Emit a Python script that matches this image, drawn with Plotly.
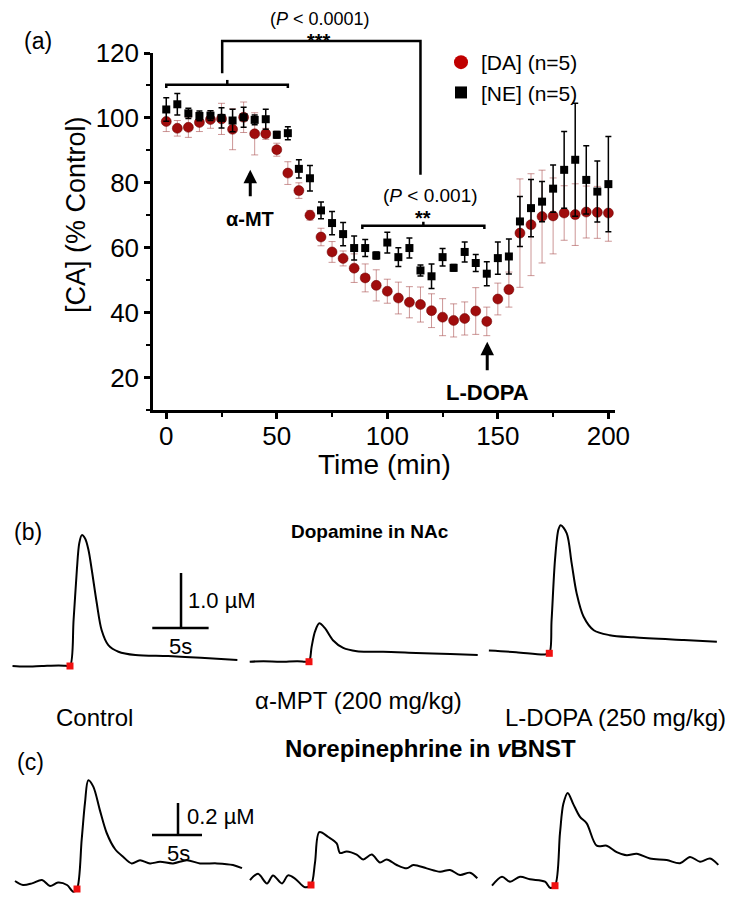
import plotly.graph_objects as go

# Page is 739x904; the browser body has an 8px margin, so the figure itself is 723x888 at (8, 8).
PAGE_W, PAGE_H = 739, 904
OX, OY = 8, 8
FW, FH = PAGE_W - 2 * OX, PAGE_H - 2 * OY
FONT = "Liberation Sans, Arial, sans-serif"

# ---------------- Panel (a) data ----------------
time_min = list(range(0, 205, 5))
da_mean = [98.9, 96.8, 97.1, 98.6, 99.5, 99.7, 96.5, 100.2, 95.1, 95.1, 90.2, 83.0, 77.6, 70.0,
           63.3, 58.7, 56.7, 53.7, 50.7, 48.4, 46.6, 44.5, 43.2, 42.5, 40.6, 38.6, 37.6, 38.2,
           40.5, 37.3, 44.2, 47.1, 64.5, 67.1, 69.6, 69.8, 70.7, 70.2, 71.0, 70.9, 70.7]
da_err = [3.1, 2.4, 3.1, 2.8, 2.7, 4.8, 6.3, 4.7, 6.5, 1.7, 2.0, 3.5, 2.4, 1.5,
          2.7, 3.2, 2.3, 4.4, 4.3, 4.8, 3.7, 4.9, 4.8, 5.4, 5.2, 5.7, 5.1, 5.1,
          7.2, 4.4, 4.9, 5.4, 16.7, 15.7, 14.3, 11.7, 8.4, 9.5, 8.0, 8.0, 8.7]
ne_mean = [102.6, 104.2, 101.4, 100.6, 100.7, 100.0, 99.2, 100.2, 99.4, 99.6, 94.8, 95.3, 84.3, 81.4,
           71.5, 67.6, 64.2, 59.9, 59.9, 57.6, 61.6, 57.1, 59.9, 53.0, 51.2, 57.1, 53.8, 58.7,
           55.3, 52.0, 56.8, 57.3, 68.1, 72.2, 74.2, 78.2, 84.0, 87.1, 80.9, 77.3, 79.6]
ne_err = [3.6, 3.3, 1.6, 1.5, 1.5, 3.1, 3.5, 3.1, 1.5, 3.1, 1.0, 2.0, 2.8, 3.9,
          2.6, 3.6, 3.6, 3.7, 2.6, 1.1, 3.2, 2.9, 3.1, 1.7, 3.8, 2.7, 1.0, 3.1,
          2.6, 3.7, 5.0, 5.4, 7.7, 8.8, 6.2, 7.3, 11.8, 17.4, 10.5, 9.4, 14.7]
x_ticks = [0, 50, 100, 150, 200]
y_ticks = [20, 40, 60, 80, 100, 120]

# ---------------- Panel (b) traces: time (s) from stimulation, [DA] (uM) ----------------
b_ctrl_t = [-5.1, -4.0, -2.5, -1.0, -0.4, 0.0, 0.32, 0.61, 0.82, 1.05, 1.34, 1.64, 1.93, 2.37, 2.81, 3.4, 4.3, 5.8, 8.7, 11.6, 14.85]
b_ctrl_c = [0.0, -0.01, 0.0, 0.01, 0.005, 0.0, 0.84, 1.75, 2.23, 2.38, 2.32, 2.11, 1.75, 1.15, 0.65, 0.38, 0.26, 0.2, 0.18, 0.15, 0.11]
b_mpt_t = [-5.2, -4.0, -2.5, -1.0, -0.35, 0.0, 0.23, 0.53, 0.9, 1.4, 2.1, 3.0, 4.2, 5.35, 6.5, 9.4, 12.4, 14.8]
b_mpt_c = [0.0, 0.01, 0.0, 0.01, 0.0, 0.0, 0.27, 0.55, 0.70, 0.61, 0.39, 0.25, 0.19, 0.18, 0.18, 0.16, 0.14, 0.12]
b_ld_t = [-5.3, -2.9, -0.4, 0.0, 0.2, 0.5, 0.8, 1.0, 1.53, 1.96, 2.4, 3.0, 3.9, 5.3, 7.4, 11.8, 14.7]
b_ld_c = [0.05, 0.02, -0.02, 0.0, 0.6, 1.7, 2.25, 2.33, 2.18, 1.64, 1.09, 0.67, 0.42, 0.33, 0.29, 0.24, 0.21]

# ---------------- Panel (c) traces: time (s), [NE] (uM) ----------------
c_ctrl_t = [-6.2, -5.4, -4.5, -3.5, -2.7, -1.9, -1.0, -0.37, 0.0, 0.47, 0.8, 1.13, 1.63, 2.3, 2.97, 3.8, 4.63,
            5.47, 6.3, 7.3, 8.3, 9.6, 11.0, 12.3, 14.0, 15.6, 16.5]
c_ctrl_c = [0.05, 0.025, 0.035, 0.056, 0.019, 0.04, 0.025, -0.017, 0.0, 0.31, 0.54, 0.68, 0.64, 0.49, 0.35, 0.25, 0.2,
            0.16, 0.18, 0.16, 0.17, 0.16, 0.18, 0.16, 0.16, 0.15, 0.13]
c_mpt_t = [-6.1, -5.3, -4.4, -3.8, -2.9, -2.3, -1.6, -0.6, 0.0, 0.4, 0.83, 1.73, 2.57, 2.9, 3.57, 4.57, 5.23,
           6.07, 6.9, 7.57, 8.57, 9.57, 10.23, 11.57, 12.9, 13.9, 14.9, 15.9, 16.63]
c_mpt_c = [0.03, 0.07, 0.01, 0.06, 0.01, 0.06, 0.04, -0.014, 0.0, 0.14, 0.33, 0.30, 0.26, 0.20, 0.21, 0.19, 0.16,
           0.19, 0.14, 0.16, 0.125, 0.104, 0.125, 0.104, 0.083, 0.094, 0.0625, 0.077, 0.042]
c_ld_t = [-6.3, -5.3, -4.5, -3.5, -2.5, -1.0, -0.5, 0.0, 0.5, 0.83, 1.27, 1.83, 2.5, 3.17, 4.17, 5.17, 6.17,
          7.17, 8.17, 9.5, 11.17, 12.5, 13.5, 14.5, 15.5, 16.33]
c_ld_c = [0.0, 0.056, 0.025, 0.056, 0.04, 0.025, -0.013, 0.0, 0.33, 0.51, 0.58, 0.51, 0.43, 0.39, 0.25, 0.25, 0.21,
          0.19, 0.2, 0.17, 0.16, 0.14, 0.18, 0.15, 0.17, 0.13]
stim_t = [0.0]
stim_c = [0.0]

# scale bars
b_bar_s, b_bar_um = 5, 1.0
c_bar_s, c_bar_um = 5, 0.2

RED = "#a00d0d"
fig = go.Figure()


def paper(xp, yp):
    """page pixel -> figure paper fraction"""
    return (xp - OX) / FW, 1 - (yp - OY) / FH


# ---------------- Panel (a) layout geometry (page pixels) ----------------
AX_L, AX_R, AX_T, AX_B = 153, 615, 53, 410
XR, YR = [-6, 203], [10, 120]


def px_a(t):
    return AX_L + (t - XR[0]) / (XR[1] - XR[0]) * (AX_R - AX_L)


def py_a(v):
    return AX_B - (v - YR[0]) / (YR[1] - YR[0]) * (AX_B - AX_T)


fig.add_trace(go.Scatter(
    x=time_min, y=da_mean, mode="markers", showlegend=False,
    marker=dict(symbol="circle", size=10, color=RED, line=dict(width=0.5, color="#6a0000")),
    error_y=dict(type="data", array=da_err, visible=True, color="rgba(170,80,80,0.6)", thickness=1, width=3.5),
    xaxis="x", yaxis="y", cliponaxis=False))
fig.add_trace(go.Scatter(
    x=time_min, y=ne_mean, mode="markers", showlegend=False,
    marker=dict(symbol="square", size=8, color="black"),
    error_y=dict(type="data", array=ne_err, visible=True, color="black", thickness=1.5, width=3),
    xaxis="x", yaxis="y", cliponaxis=False))
# legend entries
fig.add_trace(go.Scatter(x=[None], y=[None], mode="markers", name="[DA] (n=5)",
                         marker=dict(symbol="circle", size=14, color="#c00000")))
fig.add_trace(go.Scatter(x=[None], y=[None], mode="markers", name="[NE] (n=5)",
                         marker=dict(symbol="square", size=12, color="black")))

# ---------------- Panels (b), (c) mini axes ----------------
mini = [
    # (t, c, red-x px, baseline-y px, px/s, px/uM, xrange, yrange)
    (b_ctrl_t, b_ctrl_c, 68, 666, 11.4, 55, [-5.5, 15.5], [-0.3, 2.6]),
    (b_mpt_t, b_mpt_c, 309, 661.7, 11.4, 55, [-5.5, 15.5], [-0.3, 2.6]),
    (b_ld_t, b_ld_c, 549.3, 653.3, 11.4, 55, [-5.5, 15.5], [-0.3, 2.6]),
    (c_ctrl_t, c_ctrl_c, 77, 889, 10, 160, [-6.5, 17], [-0.04, 0.75]),
    (c_mpt_t, c_mpt_c, 311, 885, 10, 160, [-6.5, 17], [-0.04, 0.75]),
    (c_ld_t, c_ld_c, 555, 885.7, 10, 160, [-6.5, 17], [-0.04, 0.75]),
]
layout_axes = {}
for i, (tt, cc, x0, y0, pxs, pxu, xr, yr) in enumerate(mini):
    k = i + 2
    xa, ya0 = paper(x0 + xr[0] * pxs, y0 - yr[0] * pxu)
    xb, ya1 = paper(x0 + xr[1] * pxs, y0 - yr[1] * pxu)
    layout_axes[f"xaxis{k}"] = dict(domain=[max(0, xa), min(1, xb)], range=xr, visible=False,
                                    fixedrange=True, anchor=f"y{k}", automargin=False)
    layout_axes[f"yaxis{k}"] = dict(domain=[max(0, ya0), min(1, ya1)], range=yr, visible=False,
                                    fixedrange=True, anchor=f"x{k}", automargin=False)
    fig.add_trace(go.Scatter(x=tt, y=cc, mode="lines", showlegend=False,
                             line=dict(color="black", width=2, shape="spline", smoothing=0.9),
                             xaxis=f"x{k}", yaxis=f"y{k}", cliponaxis=False))
    fig.add_trace(go.Scatter(x=stim_t, y=stim_c, mode="markers", showlegend=False,
                             marker=dict(symbol="square", size=7, color="#f01010"),
                             xaxis=f"x{k}", yaxis=f"y{k}", cliponaxis=False))

shapes = []
# scale bars (b) in control axes x2/y2
bx0, by0, bxm = 7.3, 0.69, 9.85
shapes.append(dict(type="line", xref="x2", yref="y2", x0=bx0, x1=bx0 + b_bar_s, y0=by0, y1=by0,
                   line=dict(color="black", width=2.5)))
shapes.append(dict(type="line", xref="x2", yref="y2", x0=bxm, x1=bxm, y0=by0, y1=by0 + b_bar_um,
                   line=dict(color="black", width=2.5)))
# scale bars (c) in control axes x5/y5
cx0, cy0, cxm = 7.5, 0.3375, 10.1
shapes.append(dict(type="line", xref="x5", yref="y5", x0=cx0, x1=cx0 + c_bar_s, y0=cy0, y1=cy0,
                   line=dict(color="black", width=2.5)))
shapes.append(dict(type="line", xref="x5", yref="y5", x0=cxm, x1=cxm, y0=cy0, y1=cy0 + c_bar_um,
                   line=dict(color="black", width=2.5)))


def bracket_path(points):
    segs = []
    for j, (t, v) in enumerate(points):
        xp, yp = paper(px_a(t), py_a(v))
        segs.append(("M" if j == 0 else "L") + f"{xp:.5f},{yp:.5f}")
    return " ".join(segs)


# significance brackets (data units)
for pts in [
    [(0, 109.2), (0, 110.2), (55, 110.2), (55, 109.2)],
    [(27.6, 110.2), (27.6, 111.7)],
    [(25.3, 113.8), (25.3, 123.7), (115, 123.7), (115, 82.5)],
    [(88.7, 65.8), (88.7, 66.8), (143.9, 66.8), (143.9, 65.8)],
    [(116.3, 66.8), (116.3, 68.0)],
]:
    shapes.append(dict(type="path", xref="paper", yref="paper", path=bracket_path(pts),
                       line=dict(color="black", width=2.5)))

ann = []


def tp(xp, yp, s, size, bold=False, xanchor="center", angle=0):
    x, y = paper(xp, yp)
    ann.append(dict(x=x, y=y, xref="paper", yref="paper", text=(f"<b>{s}</b>" if bold else s), showarrow=False,
                    font=dict(family=FONT, size=size, color="black"), xanchor=xanchor, yanchor="middle",
                    textangle=angle, borderpad=0))


# panel a texts
tp(38, 41, "(a)", 23)
tp(320, 19, "(<i>P</i> &lt; 0.0001)", 18)
tp(319, 41, "***", 20, bold=True)
tp(430, 195, "(<i>P</i> &lt; 0.001)", 19)
tp(423, 218, "**", 20, bold=True)
tp(250, 219, "α-MT", 20, bold=True)
tp(487, 392, "L-DOPA", 22, bold=True)
tp(76, 215, "[CA] (% Control)", 27, angle=-90)
tp(384, 464, "Time (min)", 28)

# arrows
for (t, tip, tail) in [(38, 84, 75.4), (145.2, 31, 21.8)]:
    ann.append(dict(x=t, y=tip, ax=t, ay=tail, xref="x", yref="y", axref="x", ayref="y", text="",
                    showarrow=True, arrowhead=2, arrowsize=0.9, arrowwidth=3, arrowcolor="black"))

# panel b/c texts
tp(28, 532, "(b)", 23)
tp(370, 531, "Dopamine in NAc", 19, bold=True)
tp(358, 700, "α-MPT (200 mg/kg)", 24)
tp(94, 717, "Control", 24)
tp(615, 717, "L-DOPA (250 mg/kg)", 24)
tp(30, 762, "(c)", 23)
tp(430, 748, "Norepinephrine in <i>v</i>BNST", 24, bold=True)
tp(187, 600, "1.0 µM", 22, xanchor="left")
tp(180, 646, "5s", 22)
tp(186, 816, "0.2 µM", 22, xanchor="left")
tp(178, 853, "5s", 22)

dxa0, dya0 = paper(AX_L, AX_B)
dxa1, dya1 = paper(AX_R, AX_T)
lgx, lgy = paper(441, 42)

fig.update_layout(
    template="none",
    width=FW, height=FH, margin=dict(l=0, r=0, t=0, b=0, pad=0, autoexpand=False),
    paper_bgcolor="white", plot_bgcolor="white",
    font=dict(family=FONT, color="black"),
    xaxis=dict(domain=[dxa0, dxa1], range=XR, showgrid=False, zeroline=False, automargin=False,
               showline=True, linecolor="black", linewidth=2.5, ticks="outside", ticklen=6, tickwidth=2.5,
               tickcolor="black", tickmode="array", tickvals=x_ticks, tickfont=dict(size=26, family=FONT),
               ticklabelstandoff=-5,
               minor=dict(tickmode="linear", tick0=25, dtick=50, ticks="outside", ticklen=4, tickwidth=2,
                          tickcolor="black", showgrid=False),
               anchor="y", fixedrange=True),
    yaxis=dict(domain=[dya0, dya1], range=YR, showgrid=False, zeroline=False, automargin=False,
               showline=True, linecolor="black", linewidth=2.5, ticks="outside", ticklen=6, tickwidth=2.5,
               tickcolor="black", tickmode="array", tickvals=y_ticks, tickfont=dict(size=26, family=FONT),
               minor=dict(tickmode="linear", tick0=10, dtick=20, ticks="outside", ticklen=4, tickwidth=2,
                          tickcolor="black", showgrid=False),
               anchor="x", fixedrange=True),
    showlegend=True,
    legend=dict(x=lgx, y=lgy, xanchor="left", yanchor="top", bgcolor="rgba(0,0,0,0)", borderwidth=0,
                font=dict(size=21, family=FONT), tracegroupgap=0, itemwidth=30),
    shapes=shapes, annotations=ann,
    **layout_axes,
)

fig.write_html("out.html")
